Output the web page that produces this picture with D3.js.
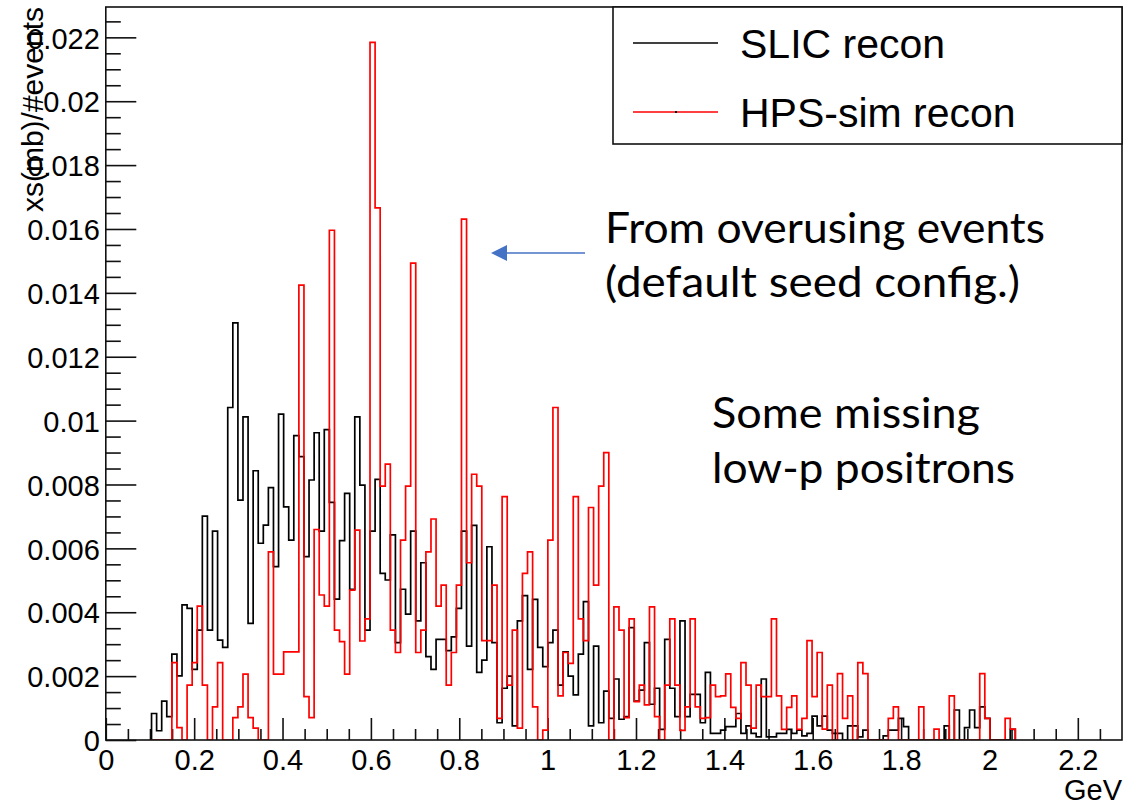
<!DOCTYPE html>
<html>
<head>
<meta charset="utf-8">
<script src="https://cdn.jsdelivr.net/npm/d3@7"></script>
<style>
body{margin:0;background:#fff;}
svg text{font-family:"Liberation Sans",Arial,Helvetica,sans-serif;}
.note{font-family:Lato,"Open Sans",sans-serif;}
</style>
</head>
<body>
<svg id="chart" width="1145" height="806"></svg>
<script>
// histogram binning: 200 bins over 0..2.3 GeV, values start at bin 9
var binWidth = 0.0115;
var firstBin = 9;

// bin contents, in units of 1e-3 (xs(mb)/#events)
var slicRecon = [
    0.83, 0.29, 1.22, 0.73, 2.69, 2.01, 4.23, 4.12, 2.21, 3.44,
    7.01, 3.44, 6.54, 3.13, 2.90, 10.41, 13.06, 7.51, 10.12, 3.65,
    8.43, 6.16, 6.73, 7.90, 5.43, 10.20, 7.30, 6.26, 9.53, 8.87,
    5.74, 8.14, 9.62, 6.54, 9.72, 7.44, 4.41, 6.24, 7.72, 4.72,
    10.12, 7.98, 3.44, 6.54, 8.16, 5.22, 5.01, 6.42, 3.05, 4.72,
    3.94, 6.54, 3.73, 5.55, 2.61, 2.21, 3.15, 3.15, 2.80, 3.23,
    4.12, 6.54, 2.94, 6.72, 2.12, 2.50, 6.05, 3.05, 0.54, 1.62,
    2.00, 0.44, 3.73, 4.52, 2.21, 4.40, 2.90, 2.30, 3.05, 3.44,
    1.72, 2.76, 2.00, 1.41, 2.69, 4.33, 0.44, 2.94, 0.54, 1.53,
    0.68, 1.91, 0.65, 0.73, 3.52, 1.22, 1.56, 3.05, 1.12, 1.62,
    0.33, 3.15, 1.62, 0.73, 3.73, 0.73, 1.43, 1.43, 0.54, 2.12,
    0.21, 0.21, 0.31, 0.42, 0.42, 0.83, 0.21, 0.44, 0.21, 0.10,
    1.91, 0.10, 0.10, 0.21, 0.21, 0.33, 0.21, 0.31, 0.13, 0.21,
    0.75, 0.44, 0.75, 0.31, 0.21, 0.21, 0, 0.44, 0.44, 0.10,
    0.31, 0, 0, 0, 0.13, 0.31, 0.31, 0.68, 0.42, 0,
    0, 0, 0, 0, 0, 0, 0.44, 0, 0.94, 0,
    0.39, 0.94, 0.39, 1.04, 0.68, 0, 0, 0, 0, 0.33
];
var hpsSimRecon = [
    0, 0, 0, 0, 2.42, 0.39, 0, 1.72, 2.42, 4.19,
    1.72, 0, 1.04, 2.42, 0, 0, 0.70, 1.04, 2.06, 0.70,
    0.37, 0, 0, 5.89, 2.06, 2.06, 2.76, 2.76, 2.76, 14.24,
    1.36, 0.70, 6.59, 4.54, 4.19, 15.96, 3.44, 3.08, 2.06, 4.69,
    6.57, 3.10, 3.79, 21.84, 16.66, 7.95, 8.64, 3.44, 2.74, 6.26,
    7.95, 14.93, 2.74, 3.44, 5.89, 6.92, 4.19, 4.85, 1.72, 2.74,
    4.85, 16.31, 5.55, 8.32, 7.95, 3.11, 3.11, 4.85, 0.68, 7.62,
    1.72, 3.44, 0.37, 5.22, 5.89, 1.04, 0, 0.31, 6.26, 10.41,
    1.38, 2.74, 2.40, 7.62, 3.79, 3.11, 7.28, 4.85, 7.95, 9.00,
    0, 4.17, 3.44, 0.70, 3.79, 1.20, 1.72, 1.10, 4.17, 0.73,
    0, 1.72, 3.79, 1.72, 0.30, 1.04, 3.79, 1.04, 0.68, 0.70,
    1.72, 1.36, 1.38, 2.07, 1.02, 0.68, 2.42, 1.72, 0.37, 1.72,
    1.36, 1.36, 3.79, 1.38, 0.33, 1.02, 1.38, 0.33, 0.68, 3.11,
    1.36, 2.74, 0.34, 1.72, 0, 2.08, 0.68, 1.38, 0, 2.42,
    2.08, 0, 0, 0, 0, 0.68, 1.04, 0, 0, 0,
    0, 1.04, 0, 0, 0.34, 0, 0, 1.38, 0, 0,
    0, 0, 0, 2.08, 0.68, 0, 0, 0, 0.68, 0.34
];

var xTicks = [0, 0.2, 0.4, 0.6, 0.8, 1, 1.2, 1.4, 1.6, 1.8, 2, 2.2];
var xTickLabels = ["0", "0.2", "0.4", "0.6", "0.8", "1", "1.2", "1.4", "1.6", "1.8", "2", "2.2"];
var yTicks = [0, 0.002, 0.004, 0.006, 0.008, 0.01, 0.012, 0.014, 0.016, 0.018, 0.02, 0.022];
var yTickLabels = ["0", "0.002", "0.004", "0.006", "0.008", "0.01", "0.012", "0.014", "0.016", "0.018", "0.02", "0.022"];
var legendLabels = ["SLIC recon", "HPS-sim recon"];
var legendColors = ["#000000", "#ff0000"];

var draw = function(){
    var svg = d3.select('svg#chart');
    var left = 105.8, right = 1122, top = 7, bottom = 740;

    var x = d3.scaleLinear().domain([0, 2.3]).range([left, right]);
    var y = d3.scaleLinear().domain([0, 0.02295]).range([bottom, top]);

    // minor ticks
    var xMinor = d3.range(0, 2.3, 0.05).filter(function(d){ return Math.abs(d/0.2 - Math.round(d/0.2)) > 1e-6; });
    var yMinor = d3.range(0, 0.0229, 0.0005).filter(function(d){ return Math.abs(d/0.002 - Math.round(d/0.002)) > 1e-6; });

    var fontFam = '"Liberation Sans", Arial, sans-serif';

    svg.append('g')
    .attr('transform', 'translate(0,' + bottom + ')')
    .call(d3.axisBottom(x).tickValues(xMinor).tickSize(-11).tickSizeOuter(0).tickFormat(''))
    .call(function(g){ g.select('.domain').remove(); });

    var xAxis = svg.append('g')
    .attr('transform', 'translate(0,' + bottom + ')')
    .call(d3.axisBottom(x).tickValues(xTicks).tickSize(-22).tickSizeOuter(0).tickPadding(9)
        .tickFormat(function(d, i){ return xTickLabels[i]; }))
    .attr('font-size', 29).attr('font-family', fontFam);
    xAxis.select('.domain').remove();

    svg.append('g')
    .attr('transform', 'translate(' + left + ',0)')
    .call(d3.axisLeft(y).tickValues(yMinor).tickSize(-15).tickSizeOuter(0).tickFormat(''))
    .call(function(g){ g.select('.domain').remove(); });

    var yAxis = svg.append('g')
    .attr('transform', 'translate(' + left + ',0)')
    .call(d3.axisLeft(y).tickValues(yTicks).tickSize(-30.5).tickSizeOuter(0).tickPadding(6)
        .tickFormat(function(d, i){ return yTickLabels[i]; }))
    .attr('font-size', 29).attr('font-family', fontFam);
    yAxis.select('.domain').remove();
    yAxis.selectAll('text').attr('dy', '0.37em');

    svg.selectAll('.tick line').attr('stroke', '#111').attr('stroke-width', 1.6);

    // histograms
    svg.append('clipPath').attr('id', 'frameClip')
    .append('rect').attr('x', left).attr('y', top).attr('width', right - left).attr('height', bottom - top);

    function histPoints(vals){
        var pts = [[x(firstBin*binWidth), y(0)]];
        vals.forEach(function(v, i){
            var lo = (firstBin + i)*binWidth;
            var hi = lo + binWidth;
            pts.push([x(lo), y(v/1000)]);
            pts.push([x(hi), y(v/1000)]);
        });
        pts.push([x((firstBin + vals.length)*binWidth), y(0)]);
        return pts;
    }
    var line = d3.line();

    var hists = svg.append('g').attr('clip-path', 'url(#frameClip)');
    hists.append('path')
    .attr('d', line(histPoints(slicRecon)))
    .attr('fill', 'none').attr('stroke', legendColors[0]).attr('stroke-width', 1.7)
    .attr('stroke-linejoin', 'miter');
    hists.append('path')
    .attr('d', line(histPoints(hpsSimRecon)))
    .attr('fill', 'none').attr('stroke', legendColors[1]).attr('stroke-width', 1.7)
    .attr('stroke-linejoin', 'miter');

    // frame
    svg.append('rect')
    .attr('x', left).attr('y', top).attr('width', right - left).attr('height', bottom - top)
    .attr('fill', 'none').attr('stroke', '#111').attr('stroke-width', 1.6);

    // axis titles
    svg.append('text')
    .attr('transform', 'translate(43,' + top + ') rotate(-90)')
    .attr('text-anchor', 'end').attr('font-size', 30)
    .text('xs(mb)/#events');
    svg.append('text')
    .attr('x', right).attr('y', 800)
    .attr('text-anchor', 'end').attr('font-size', 29)
    .text('GeV');

    // legend
    var legend = svg.append('g');
    legend.append('rect')
    .attr('x', 613).attr('y', top).attr('width', right - 613).attr('height', 137)
    .attr('fill', '#fff').attr('stroke', '#111').attr('stroke-width', 1.6);
    var rows = legend.selectAll('g.row').data(legendLabels).enter().append('g')
    .attr('class', 'row')
    .attr('transform', function(d, i){ return 'translate(0,' + (43 + i*69) + ')'; });
    rows.append('line')
    .attr('x1', 633).attr('x2', 718).attr('y1', 0).attr('y2', 0)
    .attr('stroke', function(d, i){ return legendColors[i]; }).attr('stroke-width', 1.6);
    rows.append('text')
    .attr('x', 740).attr('y', 14.5).attr('font-size', 41)
    .text(function(d){ return d; });
    legend.append('rect')
    .attr('x', 675).attr('y', 43 + 69 - 1).attr('width', 2).attr('height', 2).attr('fill', '#000');

    // annotations
    var notes = [
        {t: 'From overusing events', x: 605, y: 243, w: 440},
        {t: '(default seed config.)', x: 605, y: 297, w: 415},
        {t: 'Some missing', x: 712, y: 428, w: 268},
        {t: 'low-p positrons', x: 712, y: 483, w: 303}
    ];
    svg.selectAll('text.note').data(notes).enter().append('text')
    .attr('class', 'note')
    .attr('x', function(d){ return d.x; })
    .attr('y', function(d){ return d.y; })
    .attr('font-size', 43)
    .attr('textLength', function(d){ return d.w; })
    .attr('lengthAdjust', 'spacingAndGlyphs')
    .text(function(d){ return d.t; });

    // arrow
    svg.append('line')
    .attr('x1', 585).attr('x2', 504).attr('y1', 253).attr('y2', 253)
    .attr('stroke', '#4472c4').attr('stroke-width', 1.5);
    svg.append('path')
    .attr('d', 'M491,253 L507,245 L507,261 Z')
    .attr('fill', '#4472c4');
}

draw();
</script>
</body>
</html>
